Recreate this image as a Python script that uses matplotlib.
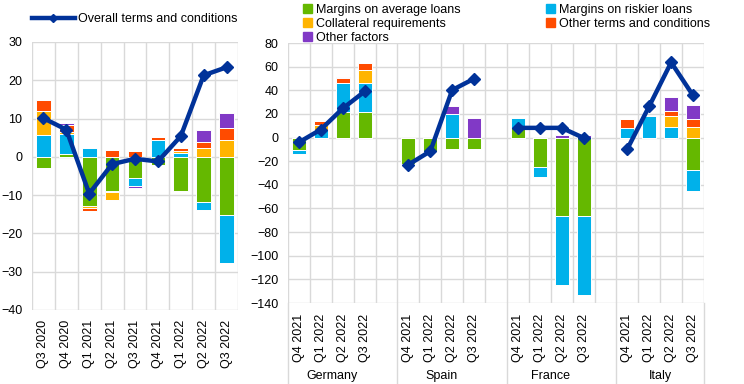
import matplotlib.pyplot as plt
import matplotlib.transforms as mtransforms
from matplotlib.patches import Patch
from matplotlib.lines import Line2D
import numpy as np

plt.rcParams['font.family'] = ['Liberation Sans', 'DejaVu Sans']
plt.rcParams['font.size'] = 9

# colours
c_green = '#65b800'
c_blue = '#00b1ea'
c_yellow = '#ffb400'
c_red = '#ff4b00'
c_purple = '#8139c6'
c_line = '#003299'
c_grid = '#d9d9d9'

# left panel: euro area
quarters = ['Q3 2020', 'Q4 2020', 'Q1 2021', 'Q2 2021', 'Q3 2021',
            'Q4 2021', 'Q1 2022', 'Q2 2022', 'Q3 2022']
ea_green = [-3.0, 0.7, -12.9, -8.8, -5.4, -2.0, -8.8, -11.9, -15.1]
ea_blue = [5.6, 5.2, 0.0, -0.5, -2.2, 4.3, 1.0, -2.0, -12.5]
ea_blue_pos = [0, 0, 2.2, 0, 0, 0, 0, 0, 0]
ea_yellow = [6.4, 0.7, -0.5, -2.0, 0.0, 0.0, 0.6, 2.3, 4.3]
ea_red = [2.9, 1.6, -0.7, 1.9, 1.6, 1.0, 0.8, 1.5, 3.3]
ea_purple = [0.0, 0.7, 0.0, 0.0, -0.6, 0.0, 0.0, 3.3, 3.9]
ea_overall = [10.1, 7.1, -9.6, -1.9, -0.5, -1.2, 5.4, 21.3, 23.4]

# right panel: countries
countries = ['Germany', 'Spain', 'France', 'Italy']
cq = ['Q4 2021', 'Q1 2022', 'Q2 2022', 'Q3 2022']
ct_green = [[-10.7, 0, 21.5, 21.5], [-22.0, -11.3, -9.9, -9.9],
            [8.5, -24.9, -66.7, -66.7], [0, 0, 0, -27.1]]
ct_blue = [[-3.4, 6.8, 25.0, 25.0], [0, 0, 20.0, 0],
           [8.2, -8.5, -58.0, -66.2], [8.5, 18.1, 8.8, -18.4]]
ct_yellow = [[0, 3.7, 0, 10.5], [0, 0, 0, 0],
             [0, 0, 0, 0], [0, 0, 9.3, 9.0]]
ct_red = [[0, 3.9, 3.6, 6.5], [0, 0, 0, 0],
          [0, 0, 0, 0], [7.3, 0, 4.5, 6.8]]
ct_purple = [[0, 0, 1.4, 0], [0, 0, 6.3, 16.4],
             [0, 0, 2.5, 2.5], [0, 0, 11.9, 11.9]]
ct_overall = [[-4.0, 6.8, 24.6, 39.0], [-22.9, -11.6, 40.2, 49.8],
              [8.2, 8.2, 8.2, -0.3], [-9.6, 26.6, 63.6, 35.6]]


def stacked(ax, x, series, colors, width=0.64):
    pos = np.zeros(len(x))
    neg = np.zeros(len(x))
    for vals, col in zip(series, colors):
        v = np.array(vals, dtype=float)
        p = np.where(v > 0, v, 0)
        n = np.where(v < 0, v, 0)
        ax.bar(x, p, width, bottom=pos, color=col, edgecolor='white', linewidth=0.7)
        ax.bar(x, n, width, bottom=neg, color=col, edgecolor='white', linewidth=0.7)
        pos += p
        neg += n


def style(ax):
    ax.set_axisbelow(True)
    for s in ax.spines.values():
        s.set_visible(False)
    ax.tick_params(length=0, colors='black')
    ax.grid(True, which='major', axis='y', color=c_grid, linewidth=1)
    ax.grid(True, which='minor', axis='x', color=c_grid, linewidth=1)
    ax.tick_params(which='minor', length=0)


fig = plt.figure(figsize=(7.44, 3.84), dpi=100)

# ---- left
ax1 = fig.add_axes([32 / 744, 74 / 384, 206 / 744, 268 / 384])
x1 = np.arange(len(quarters))
stacked(ax1, x1, [ea_green, ea_blue, ea_blue_pos, ea_yellow, ea_red, ea_purple],
        [c_green, c_blue, c_blue, c_yellow, c_red, c_purple])
ax1.plot(x1, ea_overall, color=c_line, linewidth=3.2, marker='D', markersize=6.5)
ax1.set_xlim(-0.5, len(quarters) - 0.5)
ax1.set_ylim(-40, 30)
ax1.set_yticks(np.arange(-40, 31, 10))
ax1.set_xticks(x1)
ax1.set_xticklabels(quarters, rotation=90)
ax1.set_xticks(np.arange(-0.5, len(quarters), 1), minor=True)
style(ax1)
ax1.tick_params(axis='x', pad=7)
ax1.tick_params(axis='y', pad=7)

# ---- right
ax2 = fig.add_axes([288 / 744, 81 / 384, 416 / 744, 260 / 384])
for i in range(4):
    x = np.arange(4) + i * 5
    stacked(ax2, x, [ct_green[i], ct_blue[i], ct_yellow[i], ct_red[i], ct_purple[i]],
            [c_green, c_blue, c_yellow, c_red, c_purple])
for i in range(4):
    x = np.arange(4) + i * 5
    ax2.plot(x, ct_overall[i], color=c_line, linewidth=3.2, marker='D', markersize=6.5)
ax2.set_xlim(-0.5, 18.5)
ax2.set_ylim(-140, 80)
ax2.set_yticks(np.arange(-140, 81, 20))
xt = [j + i * 5 for i in range(4) for j in range(4)]
ax2.set_xticks(xt)
ax2.set_xticklabels(cq * 4, rotation=90)
ax2.set_xticks(np.arange(-0.5, 19, 1), minor=True)
style(ax2)
ax2.tick_params(axis='x', pad=8)
ax2.tick_params(axis='y', pad=7)

trans = mtransforms.blended_transform_factory(ax2.transData, ax2.transAxes)
for i, name in enumerate(countries):
    ax2.text(i * 5 + 1.5, -0.28, name, transform=trans, ha='center', va='center')
for b in [-0.5, 4.5, 9.5, 14.5, 18.5]:
    ax2.plot([b, b], [0, -0.32], transform=trans, color=c_grid, linewidth=1, clip_on=False)

# ---- legends
fig.legend(handles=[Line2D([], [], color=c_line, linewidth=3.2, marker='D', markersize=4)],
           labels=['Overall terms and conditions'], loc='center left',
           bbox_to_anchor=(32 / 744, 1 - 19 / 384), frameon=False,
           handlelength=3.4, handletextpad=0.3, borderaxespad=0, borderpad=0)

patches = [Patch(color=c_green), Patch(color=c_yellow), Patch(color=c_purple),
           Patch(color=c_blue), Patch(color=c_red)]
labels = ['Margins on average loans', 'Collateral requirements', 'Other factors',
          'Margins on riskier loans', 'Other terms and conditions']
fig.legend(handles=patches, labels=labels, loc='upper left', ncol=2,
           bbox_to_anchor=(298 / 744, 1 + 1 / 384), frameon=False,
           handlelength=0.7, handleheight=0.7, handletextpad=0.3,
           labelspacing=0.15, columnspacing=6.9, borderaxespad=0)

fig.savefig('out.png', dpi=100)
